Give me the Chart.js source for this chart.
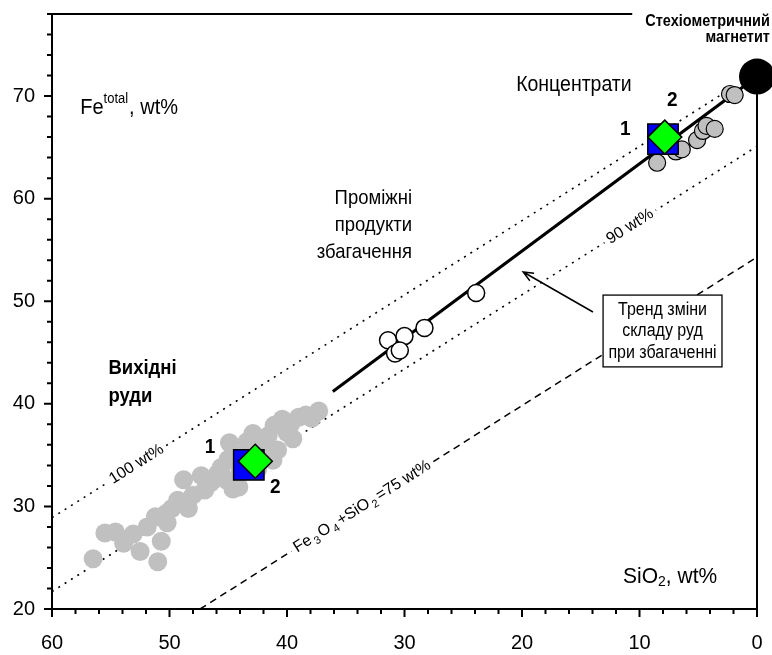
<!DOCTYPE html>
<html lang="uk">
<head>
<meta charset="utf-8">
<title>Fe total – SiO2</title>
<script src="https://cdn.jsdelivr.net/npm/chart.js@4.4.1/dist/chart.umd.min.js"></script>
<style>
    html, body { margin: 0; padding: 0; background: #fff; }
    canvas { display: block; }
</style>
</head>
<body>
<canvas id="chart" width="772" height="655"></canvas>
<script>
// Axis ticks (SiO2 reversed on x, Fe total on y)
const xTicks = [60, 50, 40, 30, 20, 10, 0];
const yTicks = [20, 30, 40, 50, 60, 70];

// Вихідні руди
const oreSiO2 = [56.5, 55.5, 54.6, 53.9, 53.1, 52.5, 51.9, 51.0, 50.7, 51.2, 50.3, 50.2, 49.8, 49.3, 48.4, 48.0,
    48.8, 47.3, 47.0, 46.5, 45.9, 45.6, 45.0, 45.2, 44.6, 44.1, 44.0, 44.9, 44.3, 43.4, 42.9, 42.3, 41.8, 41.2,
    41.6, 41.1, 40.4, 40.0, 39.5, 39.7, 39.0, 38.4, 37.9, 37.3, 42.5, 40.8];
const oreFe = [24.9, 27.4, 27.5, 26.4, 27.3, 25.6, 28.0, 24.6, 26.6, 29.0, 29.3, 28.4, 29.8, 30.6, 29.8, 31.1,
    32.6, 33.0, 31.6, 32.3, 33.2, 33.8, 34.6, 32.6, 31.7, 31.9, 33.4, 36.2, 35.0, 36.3, 37.1, 36.2, 35.6, 34.5,
    36.9, 37.9, 38.5, 37.2, 36.6, 38.0, 38.7, 38.9, 38.6, 39.3, 33.6, 35.5];

// Проміжні продукти збагачення
const midSiO2 = [31.4, 30.0, 30.8, 30.4, 28.3, 23.9];
const midFe = [46.2, 46.6, 44.9, 45.2, 47.4, 50.8];

// Концентрати
const concSiO2 = [8.5, 6.9, 6.4, 5.1, 4.6, 4.3, 3.6, 2.3, 1.9];
const concFe = [63.5, 64.6, 64.8, 65.7, 66.6, 67.1, 66.8, 70.2, 70.1];

// Average compositions: 1 and 2
const avg1SiO2 = [43.25, 8.0];
const avg1Fe = [34.05, 65.8];
const avg2SiO2 = [42.7, 7.85];
const avg2Fe = [34.4, 66.0];

// Stoichiometric magnetite
const magSiO2 = [0];
const magFe = [71.9];

// Fe3O4 + SiO2 = const lines and the enrichment trend
const sum100SiO2 = [60, 2.4];
const sum100Fe = [28.9, 70.6];
const sum90SiO2 = [60, 0];
const sum90Fe = [21.7, 65.1];
const sum75SiO2 = [47.4, 0];
const sum75Fe = [20, 54.3];
const trendSiO2 = [36.1, 0];
const trendFe = [41.2, 71.9];

const FONT = '"Liberation Sans", Arial, sans-serif';
const pts = (xs, ys) => xs.map((x, i) => ({ x, y: ys[i] }));

Chart.defaults.font.family = FONT;
Chart.defaults.color = '#000';

// draws a row of text pieces (sub/superscripts) starting at x
function runsWidth(ctx, runs) {
    let w = 0;
    runs.forEach(([t, size, dy, bold, gap]) => {
        ctx.font = (bold ? 'bold ' : '') + size + 'px ' + FONT;
        w += ctx.measureText(t).width + (gap || 0);
    });
    return w;
}

function drawRuns(ctx, runs, x, y, align = 'left', stretch = 1.1) {
    const w = runsWidth(ctx, runs);
    let cx = align === 'left' ? x : align === 'right' ? x - w : x - w / 2;
    ctx.save();
    ctx.translate(0, y);
    ctx.scale(1, stretch);
    ctx.textAlign = 'left';
    ctx.textBaseline = 'middle';
    ctx.fillStyle = '#000';
    runs.forEach(([t, size, dy, bold, gap]) => {
        ctx.font = (bold ? 'bold ' : '') + size + 'px ' + FONT;
        ctx.fillText(t, cx, dy || 0);
        cx += ctx.measureText(t).width + (gap || 0);
    });
    ctx.restore();
    return w;
}

// label written along a straight line, with a white gap under it
function lineLabel(chart, xs, ys, at, runs, size) {
    const { ctx, scales: { x, y } } = chart;
    const x1 = x.getPixelForValue(xs[0]), y1 = y.getPixelForValue(ys[0]);
    const x2 = x.getPixelForValue(xs[1]), y2 = y.getPixelForValue(ys[1]);
    const t = (at - xs[0]) / (xs[1] - xs[0]);
    ctx.save();
    ctx.translate(x1 + (x2 - x1) * t, y1 + (y2 - y1) * t);
    ctx.rotate(Math.atan2(y2 - y1, x2 - x1));
    const w = runsWidth(ctx, runs);
    ctx.fillStyle = '#fff';
    ctx.fillRect(-w / 2 - 4, -size * 0.6, w + 8, size * 1.2);
    drawRuns(ctx, runs, 0, 0, 'center', 1);
    ctx.restore();
}

// fixed axis sizes, no extra room for edge labels
const fixAxis = (w, h) => s => {
    if (w) s.width = w;
    if (h) s.height = h;
    s.paddingLeft = s.paddingRight = s.paddingTop = s.paddingBottom = 0;
};

const decorations = {
    id: 'decorations',
    afterDatasetsDraw(chart) {
        const { ctx, chartArea: a, scales: { x, y } } = chart;
        const px = v => x.getPixelForValue(v);
        const py = v => y.getPixelForValue(v);

        ctx.save();
        ctx.strokeStyle = '#000';
        ctx.lineCap = 'butt';

        // tick marks, long on labelled values
        ctx.lineWidth = 2;
        ctx.beginPath();
        for (let v = x.min; v <= x.max; v += 2) {
            const len = v % 10 === 0 ? 8 : 5;
            ctx.moveTo(px(v), a.bottom);
            ctx.lineTo(px(v), a.bottom + len);
        }
        for (let v = y.min; v <= y.max; v += 2) {
            const len = v % 10 === 0 ? 8 : 5;
            ctx.moveTo(a.left, py(v));
            ctx.lineTo(a.left - len, py(v));
        }
        ctx.stroke();

        // caption of the magnetite point, top frame stops before it
        const capRuns = [['Стехіометричний', 14.5, 0, true]];
        const capRight = px(-1.1);
        const capW = drawRuns(ctx, capRuns, capRight, py(77.3), 'right');
        drawRuns(ctx, [['магнетит', 14.5, 0, true]], capRight, py(75.7), 'right');

        ctx.lineWidth = 2;
        ctx.beginPath();
        ctx.moveTo(a.left - 1, a.top);
        ctx.lineTo(capRight - capW - 13, a.top);
        ctx.moveTo(a.right, py(magFe[0]));
        ctx.lineTo(a.right, a.bottom + 1);
        ctx.stroke();

        // axis titles
        drawRuns(ctx, [['Fe', 20, 0], ['total', 13, -8, false, 1], [', wt%', 20, 0]], px(57.6), py(68.85));
        drawRuns(ctx, [['SiO', 21, 0], ['2', 14, 5], [', wt%', 21, 0]], px(11.4), py(23.15), 'left', 1.05);

        // field names
        drawRuns(ctx, [['Концентрати', 19.5, 0]], px(20.5), py(71.1));
        drawRuns(ctx, [['Проміжні', 18.5, 0]], px(29.36), py(60.0), 'right');
        drawRuns(ctx, [['продукти', 18.5, 0]], px(29.36), py(57.4), 'right');
        drawRuns(ctx, [['збагачення', 18.5, 0]], px(29.36), py(54.8), 'right');
        drawRuns(ctx, [['Вихідні', 18.5, 0, true]], px(55.2), py(43.5));
        drawRuns(ctx, [['руди', 18.5, 0, true]], px(55.2), py(40.7));

        // numbers of the averages
        drawRuns(ctx, [['1', 19, 0, true]], px(46.55), py(35.8), 'center');
        drawRuns(ctx, [['2', 19, 0, true]], px(41.0), py(31.9), 'center');
        drawRuns(ctx, [['1', 19, 0, true]], px(11.2), py(66.8), 'center');
        drawRuns(ctx, [['2', 19, 0, true]], px(7.2), py(69.6), 'center');

        // labels on the sum lines
        lineLabel(chart, sum100SiO2, sum100Fe, 52.8, [['100 wt%', 16, 0]], 16);
        lineLabel(chart, sum90SiO2, sum90Fe, 10.8, [['90 wt%', 16, 0]], 16);
        lineLabel(chart, sum75SiO2, sum75Fe, 33.6, [
            ['Fe', 16, 0, false, 2], ['3', 11, 5, false, 2], ['O', 16, 0, false, 2], ['4', 11, 5, false, 2],
            ['+SiO', 16, 0, false, 2], ['2', 11, 5, false, 2], ['=75 wt%', 16, 0]
        ], 16);

        // trend note box with arrow
        const bx1 = px(13.1), bx2 = px(2.98), by1 = py(50.6), by2 = py(43.6);
        ctx.fillStyle = '#fff';
        ctx.fillRect(bx1, by1, bx2 - bx1, by2 - by1);
        ctx.lineWidth = 1.3;
        ctx.strokeRect(bx1, by1, bx2 - bx1, by2 - by1);
        drawRuns(ctx, [['Тренд зміни', 16, 0]], px(8.04), py(49.15), 'center');
        drawRuns(ctx, [['складу руд', 16, 0]], px(8.04), py(47.05), 'center');
        drawRuns(ctx, [['при збагаченні', 16, 0]], px(8.04), py(44.95), 'center');

        const ax = px(13.96), ay = py(48.95), tx = px(19.9), ty = py(52.85);
        const ang = Math.atan2(ay - ty, ax - tx);
        ctx.lineWidth = 1.5;
        ctx.beginPath();
        ctx.moveTo(ax, ay);
        ctx.lineTo(tx, ty);
        ctx.moveTo(tx + 11 * Math.cos(ang - 0.4), ty + 11 * Math.sin(ang - 0.4));
        ctx.lineTo(tx, ty);
        ctx.lineTo(tx + 11 * Math.cos(ang + 0.4), ty + 11 * Math.sin(ang + 0.4));
        ctx.stroke();

        ctx.restore();
    }
};

const refLine = (xs, ys, dash, width, order) => ({
    data: pts(xs, ys),
    showLine: true,
    borderColor: '#000',
    borderWidth: width,
    borderDash: dash,
    pointRadius: 0,
    fill: false,
    order
});

new Chart(document.getElementById('chart'), {
    type: 'scatter',
    data: {
        datasets: [
            { data: pts(magSiO2, magFe), pointRadius: 18, backgroundColor: '#000', borderWidth: 0, clip: false, order: 0 },
            { data: pts(avg2SiO2, avg2Fe), pointStyle: 'rectRot', pointRadius: 17, backgroundColor: '#00ff00',
              borderColor: '#000', borderWidth: 1.5, clip: false, order: 1 },
            { data: pts(avg1SiO2, avg1Fe), pointStyle: 'rect', pointRadius: 21.5, backgroundColor: '#0000ff',
              borderColor: '#000', borderWidth: 1.5, clip: false, order: 2 },
            { data: pts(concSiO2, concFe), pointRadius: 8.5, backgroundColor: '#c0c0c0',
              borderColor: '#000', borderWidth: 1.2, clip: false, order: 3 },
            { data: pts(midSiO2, midFe), pointRadius: 8.5, backgroundColor: '#fff',
              borderColor: '#000', borderWidth: 1.5, clip: false, order: 4 },
            refLine(trendSiO2, trendFe, [], 3, 5),
            { data: pts(oreSiO2, oreFe), pointRadius: 9.5, backgroundColor: '#c0c0c0', borderWidth: 0,
              clip: false, order: 6 },
            refLine(sum100SiO2, sum100Fe, [2, 5.5], 1.6, 7),
            refLine(sum90SiO2, sum90Fe, [2, 5.5], 1.6, 8),
            refLine(sum75SiO2, sum75Fe, [7, 5], 1.5, 9)
        ]
    },
    options: {
        responsive: false,
        animation: false,
        devicePixelRatio: 1,
        events: [],
        layout: { autoPadding: false, padding: { top: 14, right: 15, left: 0, bottom: 0 } },
        plugins: { legend: { display: false }, tooltip: { enabled: false } },
        scales: {
            x: {
                type: 'linear',
                reverse: true,
                min: 0,
                max: 60,
                afterBuildTicks: s => { s.ticks = xTicks.map(v => ({ value: v })); },
                afterFit: fixAxis(0, 46),
                grid: { drawOnChartArea: false, drawTicks: false },
                border: { color: '#000', width: 2 },
                ticks: { padding: 22, font: { size: 20 }, color: '#000', maxRotation: 0 }
            },
            y: {
                type: 'linear',
                min: 20,
                max: 78,
                afterBuildTicks: s => { s.ticks = yTicks.map(v => ({ value: v })); },
                afterFit: fixAxis(52, 0),
                grid: { drawOnChartArea: false, drawTicks: false },
                border: { color: '#000', width: 2 },
                ticks: { padding: 17, font: { size: 20 }, color: '#000' }
            }
        }
    },
    plugins: [decorations]
});
</script>
</body>
</html>
